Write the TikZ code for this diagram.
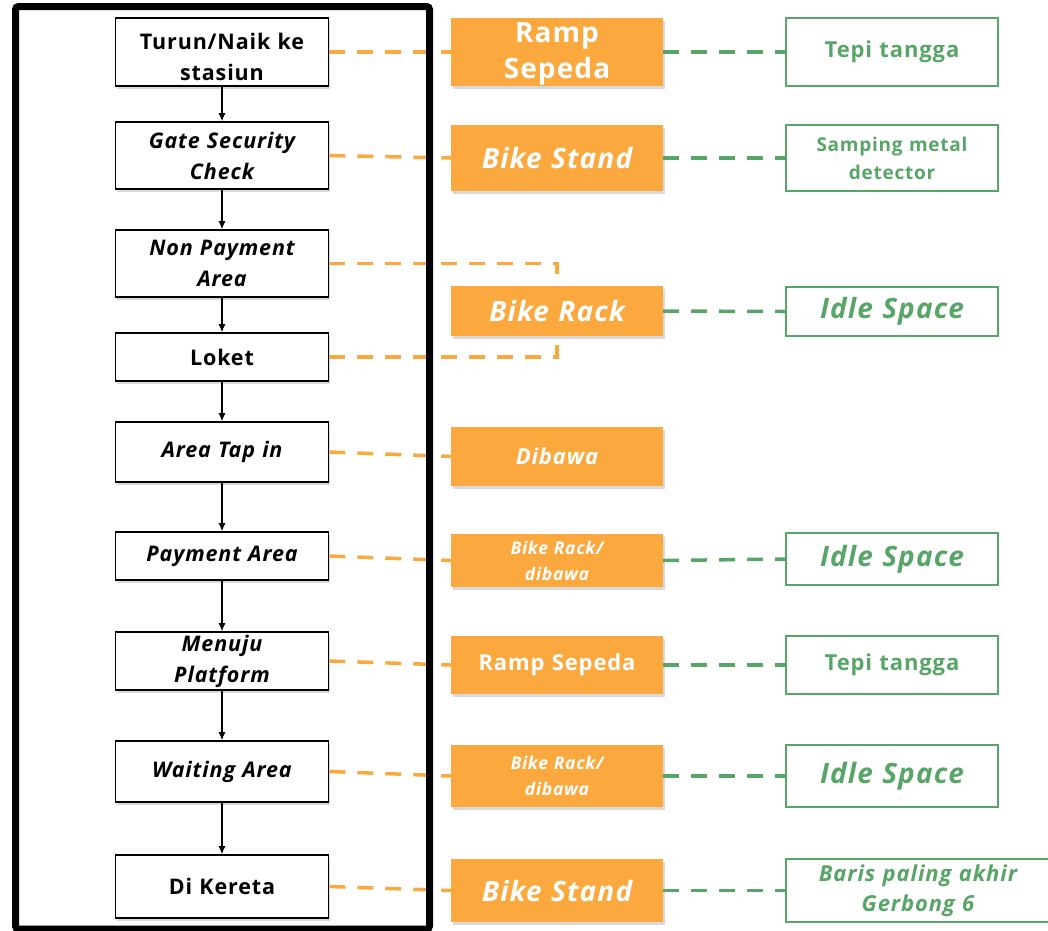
\documentclass[tikz,border=0pt]{standalone}
\usepackage{fontspec}
\setmainfont{Open Sans}[LetterSpace=4]
\usetikzlibrary{shadows,arrows.meta}

\definecolor{oranye}{HTML}{FBA93F}
\definecolor{hijau}{HTML}{58A568}

\newcommand{\besar}{\fontsize{28}{36}\selectfont}
\newcommand{\sedang}{\fontsize{22}{30}\selectfont}
\newcommand{\agakkecil}{\fontsize{19}{28}\selectfont}
\newcommand{\kecil}{\fontsize{17.5}{26}\selectfont}

\tikzset{
  bayang/.style={drop shadow={shadow xshift=1.5pt, shadow yshift=-3pt, opacity=.3}},
  tahap/.style={draw=black, line width=1.6pt, fill=white, bayang, minimum width=213pt,
    text width=208pt, align=center, inner sep=0pt, font=\bfseries\fontsize{21.5}{31}\selectfont},
  alat/.style={fill=oranye, text=white, bayang, minimum width=212pt, text width=208pt,
    align=center, inner sep=0pt},
  lokasi/.style={draw=hijau, line width=1.4pt, fill=white, text=hijau, minimum width=212pt,
    text width=208pt, align=center, inner sep=0pt},
  panah/.style={-{Latex[length=8pt,width=7pt]}, line width=1.1pt},
  putusO/.style={oranye, line width=3.5pt, dash pattern=on 16pt off 12pt},
  putusH/.style={hijau, line width=3.5pt, dash pattern=on 16pt off 12pt},
}

\begin{document}
\begin{tikzpicture}[x=1pt,y=-1pt]
\useasboundingbox (0,0) rectangle (1048,930);
% Tahapan di stasiun
\foreach \n/\y/\h/\lab in {1/52/68/{\rule{0pt}{26pt}Turun/Naik ke\\stasiun}, 2/155.5/67/{\itshape Gate Security\\Check},
    3/263.5/67/{\itshape Non Payment\\Area}, 4/357/48/{Loket}, 5/452/60/{\itshape Area Tap in},
    6/556/48/{\itshape Payment Area}, 7/661/58/{\itshape Menuju\\Platform},
    8/771.5/61/{\itshape Waiting Area}, 9/886.5/63/{Di Kereta}}
  \node[tahap, minimum height=\h pt] (l\n) at (222,\y) {\lab};
\foreach \a/\b in {1/2, 2/3, 3/4, 4/5, 5/6, 6/7, 7/8, 8/9}
  \draw[panah] (l\a) -- (l\b);
% Sepeda
\foreach \n/\y/\h/\f/\lab in {1/52/68/\besar/{\rule{0pt}{24pt}Ramp\\Sepeda}, 2/158/66/\besar/{\itshape Bike Stand},
    3/311/50/\besar/{\itshape Bike Rack}, 4/456.5/59/\sedang/{\itshape Dibawa},
    5/560.5/53/\kecil/{\itshape Bike Rack/\\dibawa}, 6/665/58/\sedang/{Ramp Sepeda},
    7/776/62/\kecil/{\itshape Bike Rack/\\dibawa}, 8/890.5/63/\besar/{\itshape Bike Stand}}
  \node[alat, font=\bfseries\f, minimum height=\h pt] (o\n) at (557,\y) {\lab};
% Lokasi
\foreach \n/\y/\h/\f/\lab in {1/52/68/\sedang/{Tepi tangga}, 2/158/66/\agakkecil/{Samping metal\\detector},
    3/311.5/49/\besar/{\itshape Idle Space}, 4/559/52/\besar/{\itshape Idle Space},
    5/665/58/\sedang/{Tepi tangga}, 6/776/62/\besar/{\itshape Idle Space}}
  \node[lokasi, font=\bfseries\f, minimum height=\h pt] (g\n) at (892,\y) {\lab};
\node[lokasi, font=\bfseries\sedang, minimum height=63pt, minimum width=264pt, text width=250pt]
  (g7) at (918,890.5) {\itshape Baris paling akhir\\Gerbong 6};

% Garis putus-putus
\foreach \a/\b in {1/1, 2/2, 5/4, 6/5, 7/6, 8/7, 9/8}
  \draw[putusO] (l\a.east) -- (o\b.west);
\draw[putusO] (l3.east) -| ([yshift=12pt]o3.north);
\draw[putusO] (l4.east) -| ([yshift=-8pt]o3.south);
\foreach \a/\b in {1/1, 2/2, 3/3, 5/4, 6/5, 7/6, 8/7}
  \draw[putusH] (o\a.east) -- (g\b.west);

% Bingkai
\draw[line width=7pt, rounded corners=3pt] (15.5,6.5) rectangle (429.5,929);
\end{tikzpicture}
\end{document}
